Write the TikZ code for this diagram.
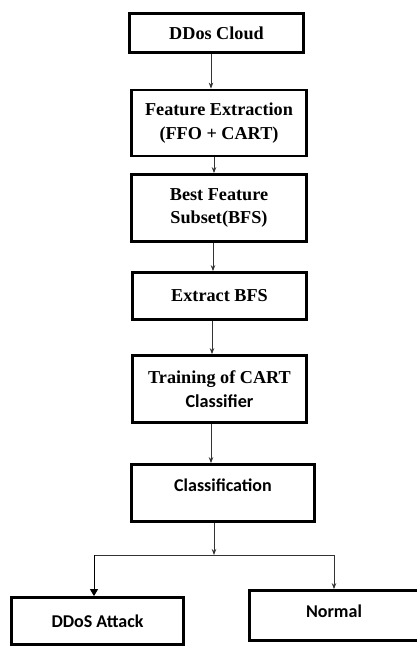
\documentclass[tikz,border=0pt]{standalone}
\usepackage{fontspec}
\setmainfont{Liberation Serif}
\newfontfamily\calibri{Carlito}
\usetikzlibrary{arrows.meta}

\tikzset{
  box/.style={draw, line width=2.8pt, inner sep=0pt, align=center,
    font=\fontsize{18.2}{23.5}\selectfont\bfseries},
  ctext/.style={inner sep=0pt, font=\fontsize{18}{23}\selectfont\calibri\bfseries},
  cbox/.style={box, font=\fontsize{18}{23}\selectfont\calibri\bfseries},
  arr/.style={line width=0.8pt, draw=black!80, -{Stealth[length=6pt,width=4.5pt]}},
  bigarr/.style={line width=0.9pt, -{Triangle[length=7pt,width=8pt]}}
}

\begin{document}
\begin{tikzpicture}[x=1pt,y=-1pt]
  \useasboundingbox (0,0) rectangle (416,648);

  % boxes
  \node[box, minimum width=174pt, minimum height=39pt] (cloud) at (216.5,33) {DDos Cloud};
  \node[box, minimum width=175pt, minimum height=66pt] (fe) at (219,123) {Feature Extraction\\(FFO + CART)};
  \node[box, minimum width=175pt, minimum height=67pt] (bfs) at (219,208) {Best Feature\\Subset(BFS)};
  \node[box, minimum width=174pt, minimum height=47pt] (ext) at (219.5,296) {Extract BFS};
  \node[box, minimum width=174pt, minimum height=67pt] (train) at (219.5,389)
    {Training of CART\\{\calibri\bfseries Classifier}};
  \node[cbox, minimum width=183pt, minimum height=57pt] (cls) at (223,493) {};
  \node[ctext] (clstext) at (223,485) {Classification};
  \node[cbox, minimum width=172pt, minimum height=47pt] (attack) at (97.5,621) {DDoS Attack};
  \node[cbox, minimum width=169pt, minimum height=50pt] (normal) at (334,615.5) {};
  \node[ctext] (normaltext) at (334,611) {Normal};

  % connectors
  \foreach \a/\b/\s in {cloud/fe/-5.5, fe/bfs/-5, bfs/ext/-6, ext/train/-7.5, train/cls/-8.5}
    \draw[arr] ([xshift=\s pt]\a.south) -- ([xshift=\s pt]\a.south |- \b.north);

  \coordinate (jL) at (94,555);
  \coordinate (jR) at (334,555);
  \draw[arr] ([xshift=-9pt]cls.south) -- ([xshift=-9pt]cls.south |- jL);
  \draw[line width=0.8pt, draw=black!80] (jL) -- (jR);
  \draw[bigarr] (jL) -- (jL |- attack.north);
  \draw[arr] (jR) -- (normal.north);
\end{tikzpicture}
\end{document}
